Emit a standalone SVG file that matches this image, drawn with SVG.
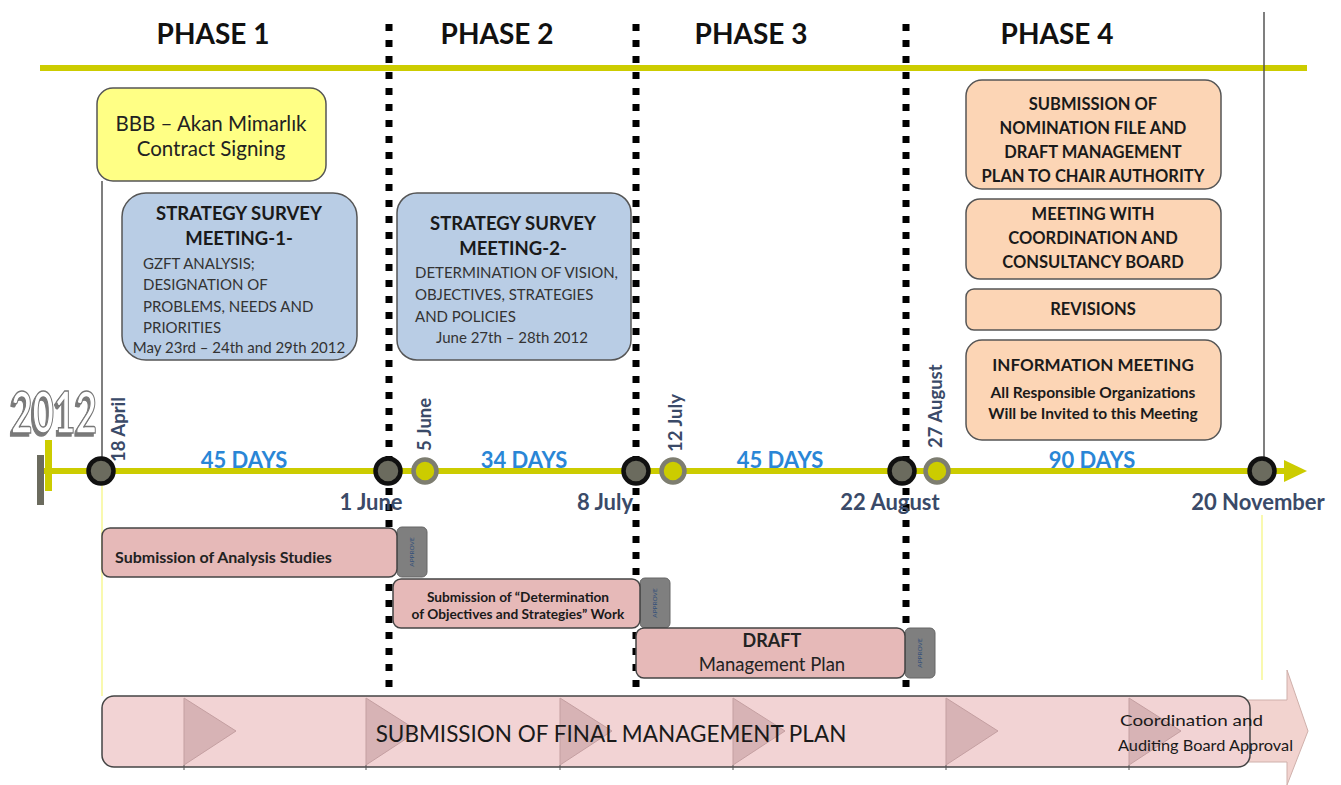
<svg xmlns="http://www.w3.org/2000/svg" width="1341" height="785" viewBox="0 0 1341 785">
<defs>
<style>
text{font-family:Lato,"Liberation Sans",sans-serif;}
.phase{font-size:28px;font-weight:bold;fill:#111;text-anchor:middle;}
.dots{stroke:#000;stroke-width:7;stroke-dasharray:7 9;fill:none;}
.days{font-size:22px;font-weight:bold;fill:#2a86d6;text-anchor:middle;}
.date{font-size:22px;font-weight:bold;fill:#3a4a68;text-anchor:middle;}
.vdate{font-size:18.5px;font-weight:bold;fill:#3a4a68;}
.big{fill:#6b6b5e;stroke:#111;stroke-width:4.5;}
.small{fill:#cccc00;stroke:#7d7d70;stroke-width:4.5;}
.blue{fill:#b9cde5;stroke:#555;stroke-width:1.5;}
.peach{fill:#fcd5b5;stroke:#555;stroke-width:1.5;}
.pink{fill:#e6b9b8;stroke:#444;stroke-width:1.5;}
.appr{fill:#7f7f7f;stroke:#666;stroke-width:1;}
.apt{font-size:6.5px;fill:#33507a;text-anchor:middle;}
.t{fill:#1a1a1a;text-anchor:middle;font-weight:bold;}
.chev{fill:#d7b3b5;stroke:#c49fa1;stroke-width:1;}
.body{font-size:15px;fill:#333;}
</style>
<filter id="shadow" x="-10%" y="-10%" width="130%" height="140%">
<feDropShadow dx="-2" dy="3" stdDeviation="0.6" flood-color="#7a7a7a" flood-opacity="1"/>
</filter>
</defs>
<rect width="1341" height="785" fill="#fff"/>

<g id="headers">
<text class="phase" x="213" y="44">PHASE 1</text>
<text class="phase" x="497" y="44">PHASE 2</text>
<text class="phase" x="751" y="44">PHASE 3</text>
<text class="phase" x="1057" y="44">PHASE 4</text>
<line x1="40" y1="68" x2="1307" y2="68" stroke="#cccc00" stroke-width="6"/>
</g>

<g id="connectors">
<line class="dots" x1="389" y1="24" x2="389" y2="694"/>
<line class="dots" x1="636" y1="24" x2="636" y2="694"/>
<line class="dots" x1="906" y1="24" x2="906" y2="694"/>
<line x1="1264" y1="12" x2="1264" y2="462" stroke="#555" stroke-width="1.5"/>
<line x1="102" y1="181" x2="102" y2="462" stroke="#555" stroke-width="1.5"/>
<line x1="102" y1="482" x2="102" y2="696" stroke="#f5f57a" stroke-width="1.2"/>
<line x1="1262" y1="515" x2="1262" y2="680" stroke="#f5f57a" stroke-width="1.2"/>
</g>

<g id="timeline">
<line x1="44" y1="471" x2="1288" y2="471" stroke="#cccc00" stroke-width="6"/>
<polygon points="1284,460 1307,471 1284,482" fill="#cccc00"/>
<rect x="45" y="440" width="7" height="51" fill="#cccc00"/>
<rect x="37" y="455" width="7" height="50" fill="#6b6b5e"/>
<text x="11" y="433" font-size="58" font-weight="bold" textLength="86" lengthAdjust="spacingAndGlyphs" fill="#fff" stroke="#777" stroke-width="1.5" filter="url(#shadow)" font-family="Liberation Sans, sans-serif">2012</text>
<circle class="big" cx="101" cy="471" r="12.5"/>
<circle class="big" cx="388" cy="471" r="12.5"/>
<circle class="big" cx="636" cy="471" r="12.5"/>
<circle class="big" cx="902" cy="471" r="12.5"/>
<circle class="big" cx="1262" cy="471" r="12.5"/>
<circle class="small" cx="425" cy="471" r="11.5"/>
<circle class="small" cx="673" cy="471" r="11.5"/>
<circle class="small" cx="937" cy="471" r="11.5"/>
<text class="days" x="244" y="468">45 DAYS</text>
<text class="days" x="524" y="468">34 DAYS</text>
<text class="days" x="780" y="468">45 DAYS</text>
<text class="days" x="1092" y="468">90 DAYS</text>
<text class="date" x="371" y="510">1 June</text>
<text class="date" x="605" y="510">8 July</text>
<text class="date" x="890" y="510">22 August</text>
<text class="date" x="1258" y="510">20 November</text>
<text class="vdate" transform="translate(125,462) rotate(-90)">18 April</text>
<text class="vdate" transform="translate(431,451) rotate(-90)">5 June</text>
<text class="vdate" transform="translate(682,452) rotate(-90)">12 July</text>
<text class="vdate" transform="translate(942,448) rotate(-90)">27 August</text>
</g>

<g id="contract">
<rect x="97" y="88" width="229" height="93" rx="16" fill="#ffff85" stroke="#555" stroke-width="1.5"/>
<text x="211" y="131" font-size="20.5" fill="#222" text-anchor="middle">BBB – Akan Mimarlık</text>
<text x="211" y="156" font-size="20.5" fill="#222" text-anchor="middle">Contract Signing</text>
</g>

<g id="survey1">
<rect class="blue" x="122" y="193" width="235" height="167" rx="24"/>
<text class="t" x="239" y="220" font-size="18.5">STRATEGY SURVEY</text>
<text class="t" x="239" y="245" font-size="18.5">MEETING-1-</text>
<text class="body" x="143" y="269">GZFT ANALYSIS;</text>
<text class="body" x="143" y="290">DESIGNATION  OF</text>
<text class="body" x="143" y="312">PROBLEMS, NEEDS  AND</text>
<text class="body" x="143" y="333">PRIORITIES</text>
<text class="body" x="239" y="353" font-size="15.5" text-anchor="middle">May 23rd – 24th and 29th 2012</text>
</g>

<g id="survey2">
<rect class="blue" x="397" y="193" width="234" height="167" rx="20"/>
<text class="t" x="513" y="230" font-size="18.5">STRATEGY SURVEY</text>
<text class="t" x="513" y="255" font-size="18.5">MEETING-2-</text>
<text class="body" x="415" y="278">DETERMINATION  OF VISION,</text>
<text class="body" x="415" y="300">OBJECTIVES, STRATEGIES</text>
<text class="body" x="415" y="322">AND POLICIES</text>
<text class="body" x="512" y="343" font-size="15.5" text-anchor="middle">June 27th – 28th 2012</text>
</g>

<g id="submission-nomination">
<rect class="peach" x="966" y="80" width="255" height="109" rx="16"/>
<g class="t" font-size="16.5">
<text x="1093" y="110">SUBMISSION OF</text>
<text x="1093" y="134">NOMINATION FILE AND</text>
<text x="1093" y="158">DRAFT MANAGEMENT</text>
<text x="1093" y="182">PLAN TO CHAIR AUTHORITY</text>
</g>
</g>
<g id="meeting-board">
<rect class="peach" x="966" y="199" width="255" height="80" rx="14"/>
<g class="t" font-size="16.5">
<text x="1093" y="220">MEETING WITH</text>
<text x="1093" y="244">COORDINATION AND</text>
<text x="1093" y="268">CONSULTANCY BOARD</text>
</g>
</g>
<g id="revisions">
<rect class="peach" x="966" y="289" width="255" height="41" rx="8"/>
<text class="t" x="1093" y="315" font-size="16.5">REVISIONS</text>
</g>
<g id="info-meeting">
<rect class="peach" x="966" y="340" width="255" height="100" rx="16"/>
<text class="t" x="1093" y="371" font-size="17">INFORMATION MEETING</text>
<text class="t" x="1093" y="398" font-size="15.5">All Responsible  Organizations</text>
<text class="t" x="1093" y="419" font-size="15.5">Will be Invited to this Meeting</text>
</g>

<g id="analysis">
<rect class="appr" x="397" y="527" width="30" height="50" rx="5"/>
<text class="apt" transform="translate(414,552) rotate(-90)">APPROVE</text>
<rect class="pink" x="102" y="528" width="295" height="49" rx="8"/>
<text x="115" y="563" font-size="16" font-weight="bold" fill="#222">Submission of Analysis  Studies</text>
</g>

<g id="objectives">
<rect class="appr" x="640" y="578" width="30" height="50" rx="5"/>
<text class="apt" transform="translate(657,603) rotate(-90)">APPROVE</text>
<rect class="pink" x="393" y="579" width="247" height="49" rx="8"/>
<text class="t" x="518" y="602" font-size="13.7">Submission of “Determination</text>
<text class="t" x="518" y="619" font-size="13.7">of Objectives and Strategies” Work</text>
</g>

<g id="draft">
<rect class="appr" x="905" y="628" width="30" height="50" rx="5"/>
<text class="apt" transform="translate(922,653) rotate(-90)">APPROVE</text>
<rect class="pink" x="636" y="628" width="269" height="50" rx="8"/>
<text x="772" y="647" font-size="18" fill="#222" text-anchor="middle" font-weight="bold">DRAFT</text>
<text x="772" y="671" font-size="18.5" fill="#222" text-anchor="middle">Management Plan</text>
</g>

<g id="final-plan">
<polygon points="1246,700 1287,700 1287,670 1308,731 1287,785 1287,762 1246,762" fill="#f2d3cf" stroke="#cfb0ab" stroke-width="1"/>
<rect x="102" y="696" width="1148" height="71" rx="12" fill="#f2d3d4" stroke="#444" stroke-width="1.5"/>
<polygon class="chev" points="184,698 236,731 184,765"/>
<polygon class="chev" points="366,698 418,731 366,765"/>
<polygon class="chev" points="560,698 612,731 560,765"/>
<polygon class="chev" points="733,698 785,731 733,765"/>
<polygon class="chev" points="946,698 998,731 946,765"/>
<polygon class="chev" points="1129,698 1181,731 1129,765"/>
<g stroke="#555" stroke-width="1">
<line x1="184" y1="765" x2="184" y2="770"/>
<line x1="366" y1="765" x2="366" y2="770"/>
<line x1="560" y1="765" x2="560" y2="770"/>
<line x1="733" y1="765" x2="733" y2="770"/>
<line x1="946" y1="765" x2="946" y2="770"/>
<line x1="1129" y1="765" x2="1129" y2="770"/>
</g>
<text x="611" y="742" font-size="22.5" fill="#1a1a1a" text-anchor="middle">SUBMISSION OF FINAL MANAGEMENT PLAN</text>
<text x="1120" y="726" font-size="16" fill="#1a1a1a" textLength="143" lengthAdjust="spacingAndGlyphs">Coordination and</text>
<text x="1118" y="751" font-size="16" fill="#1a1a1a" textLength="175" lengthAdjust="spacingAndGlyphs">Auditing Board Approval</text>
</g>
</svg>
